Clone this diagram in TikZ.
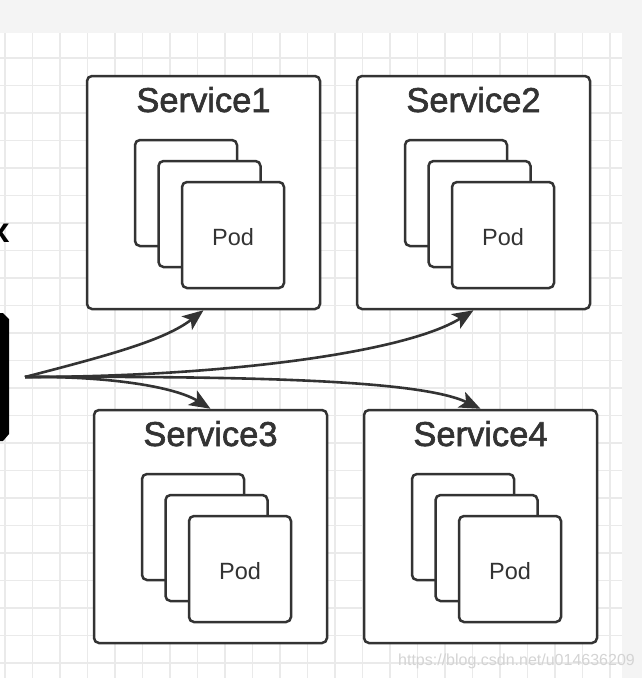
\documentclass[tikz,border=0pt]{standalone}
\usepackage{fontspec}
\setmainfont{Liberation Sans}
\usetikzlibrary{arrows.meta}
\definecolor{ink}{RGB}{51,51,51}
\definecolor{band}{RGB}{244,244,244}
\definecolor{gridc}{RGB}{234,234,234}
\definecolor{wm}{RGB}{212,212,212}
\newcommand{\heavytext}[1]{\special{pdf:literal direct 2 Tr 0.6 w}#1\special{pdf:literal direct 0 Tr}}
\tikzset{
  svcbox/.style={draw=ink, fill=white, line width=2.5pt, rounded corners=5pt,
    minimum width=233pt, minimum height=233pt, inner sep=0pt},
  podbox/.style={draw=ink, fill=white, line width=2.5pt, rounded corners=5pt,
    minimum width=102pt, minimum height=106pt, inner sep=0pt},
  svctitle/.style={anchor=base, inner sep=0pt, text=ink, font=\fontsize{34.5}{34.5}\selectfont},
  podtext/.style={anchor=base, inner sep=0pt, text=ink, font=\fontsize{23.5}{23.5}\selectfont},
  conn/.style={draw=ink, line width=2.6pt, -{Stealth[length=21pt,width=17pt,inset=5pt]}},
  gridline/.style={draw=gridc, line width=1.3pt}
}
\newcommand{\svcgroup}[4]{%
  \begin{scope}[shift={(#2,#3)}]
    \node[svcbox] (#1) at (116.5,116.5) {};
    \node[svctitle] (#1-t) at (116.5,36) {\heavytext{#4}};
    \node[podbox] (#1-p1) at (99,117) {};
    \node[podbox] (#1-p2) at (122.5,138) {};
    \node[podbox] (#1-p3) at (146,159) {};
    \node[podtext] (#1-l) at (146,169) {Pod};
  \end{scope}}
\begin{document}
\begin{tikzpicture}[x=1pt, y=-1pt]
  \useasboundingbox (0,0) rectangle (642,678);
  \fill[band] (0,0) rectangle (642,678);
  \fill[white] (0,33) rectangle (622,678);
  \foreach \k in {0,...,22} {
    \draw[gridline] (5+27.5*\k,33) -- (5+27.5*\k,678);
    \draw[gridline] (0,58+27.5*\k) -- (622,58+27.5*\k);
  }
  % partial ingress shape on the left
  \fill[black] (-5,313) -- (3,313) -- (9,319) -- (9,434) -- (3,441) -- (-5,441) -- cycle;
  \node[anchor=base east, inner sep=0pt, text=black, font=\bfseries\fontsize{35}{35}\selectfont] (nx) at (10.5,242) {x};

  \svcgroup{s1}{87}{76}{Service1}
  \svcgroup{s2}{357}{76}{Service2}
  \svcgroup{s3}{94}{410}{Service3}
  \svcgroup{s4}{364}{410}{Service4}

  \coordinate (src) at (25,377);
  \draw[conn] (src) .. controls (110,355) and (165,340) .. (s1.south);
  \draw[conn] (src) .. controls (220,377) and (405,353) .. (s2.south);
  \draw[conn] (src) .. controls (110,376) and (175,387) .. (s3.north);
  \draw[conn] (src) .. controls (250,376) and (420,380) .. (s4.north);

  \node[anchor=base west, inner sep=0pt, text=wm, font=\fontsize{16}{16}\selectfont] (wmk) at (398,665) {https://blog.csdn.net/u014636209};
\end{tikzpicture}
\end{document}
